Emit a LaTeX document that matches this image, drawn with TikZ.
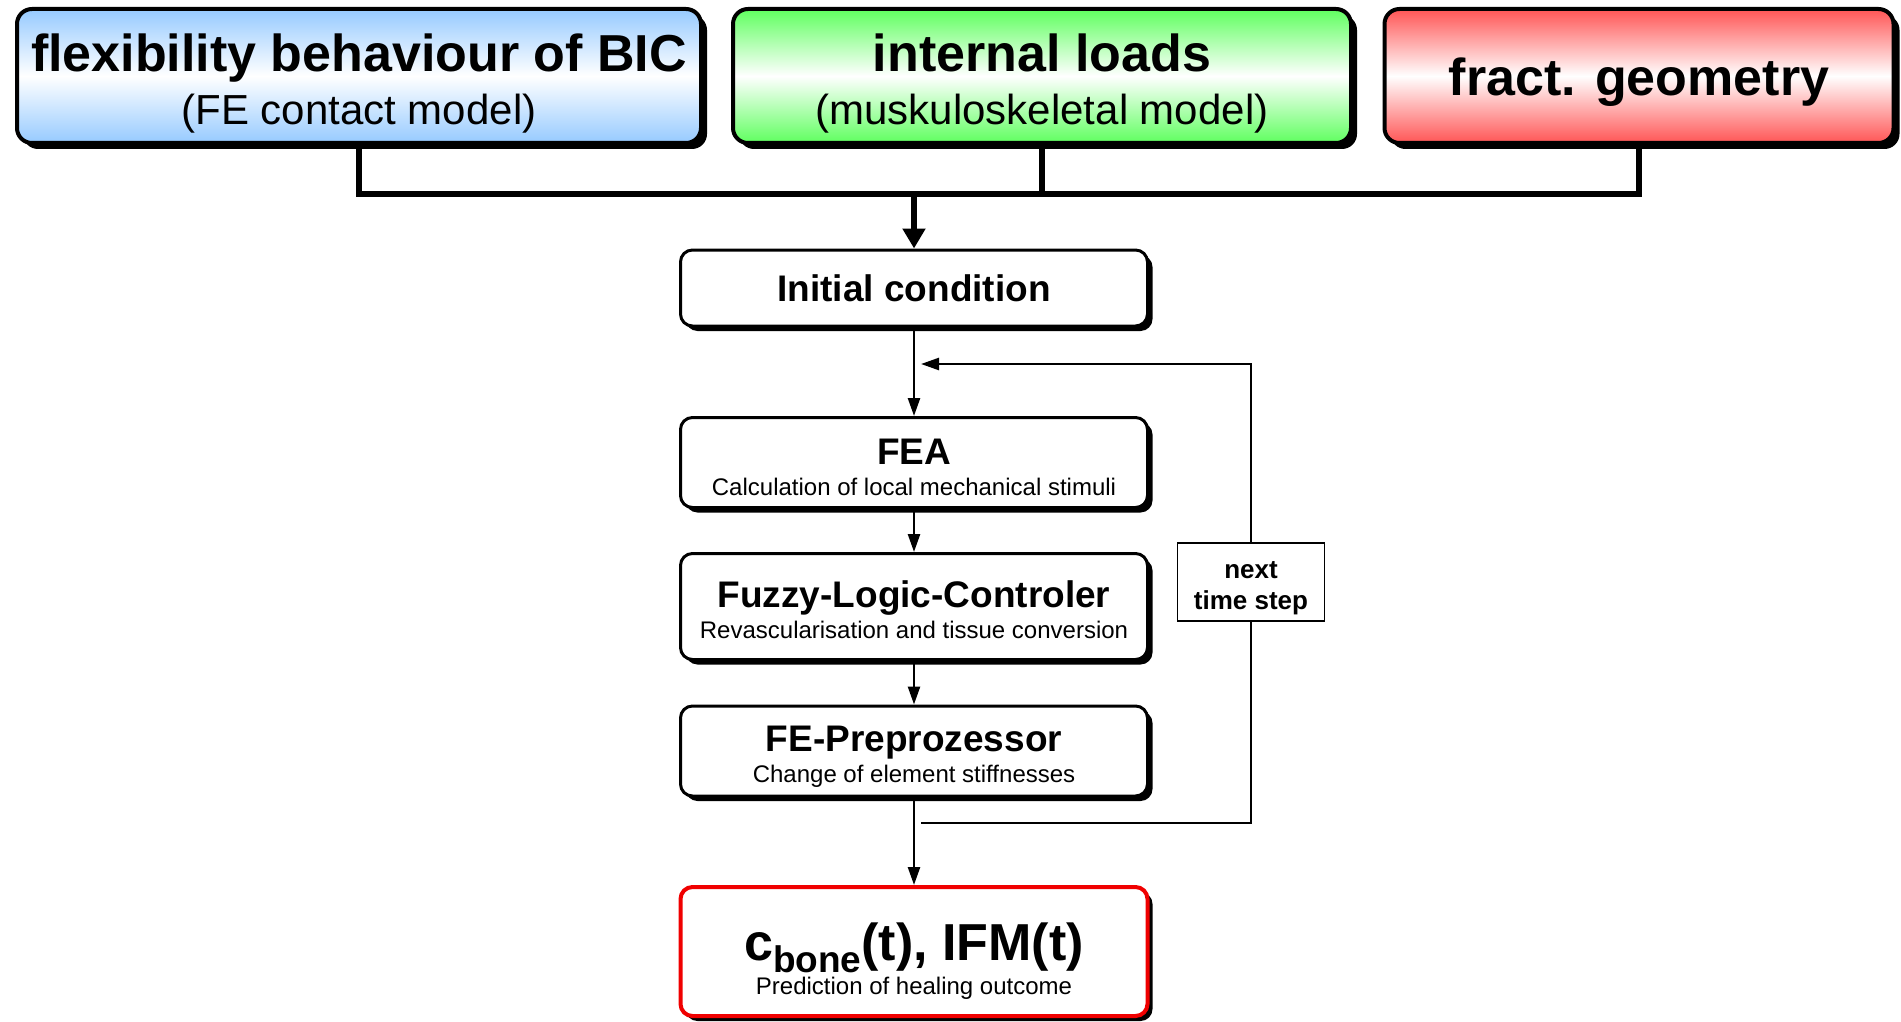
\documentclass[tikz,border=0pt]{standalone}
\usepackage{fontspec}
\setmainfont{Liberation Sans}
\usetikzlibrary{shadows,arrows.meta,positioning}

\definecolor{bicblue}{RGB}{150,202,255}
\definecolor{loadgreen}{RGB}{95,255,95}
\definecolor{geored}{RGB}{255,85,85}
\definecolor{outred}{RGB}{240,0,0}

\begin{document}
\begin{tikzpicture}[x=1pt, y=1pt,
    inbox/.style={rectangle, draw=black, line width=4pt, rounded corners=15pt, minimum height=134pt, align=center, font=\fontsize{52}{53}\selectfont\bfseries, drop shadow={shadow xshift=6pt, shadow yshift=-6pt, opacity=1, fill=black}},
    box/.style={rectangle, draw=black, fill=white, line width=3pt, rounded corners=12pt, minimum width=467pt, align=center, font=\fontsize{37}{31}\selectfont\bfseries, drop shadow={shadow xshift=5pt, shadow yshift=-5pt, opacity=1, fill=black}},
    bus/.style={line width=6pt},
    bigarrow/.style={line width=6pt, -{Triangle[width=22pt,length=20pt]}},
    arrow/.style={line width=2.5pt, -{Triangle[width=12pt,length=18pt]}}
]
    \useasboundingbox (0,0) rectangle (1901,-1022);

    \node[inbox, minimum width=684pt, top color=bicblue, bottom color=bicblue, middle color=white] (bic) at (359,-76) {\rule{0pt}{53pt}flexibility behaviour of BIC\\{\fontsize{42}{53}\selectfont\mdseries (FE contact model)}};
    \node[inbox, minimum width=618pt, top color=loadgreen, bottom color=loadgreen, middle color=white] (loads) at (1042,-76) {\rule{0pt}{53pt}internal loads\\{\fontsize{42}{53}\selectfont\mdseries (muskuloskeletal model)}};
    \node[inbox, minimum width=509pt, top color=geored, bottom color=geored, middle color=white] (geo) at (1639,-76) {\rule{0pt}{50pt}fract. geometry};

    \node[box, minimum height=76pt] (ic) at (914,-288) {Initial condition};
    \node[box, below of=ic, node distance=174.5pt, minimum height=90pt] (fea) {\rule{0pt}{36pt}FEA\\{\fontsize{24}{31}\selectfont\mdseries Calculation of local mechanical stimuli}};
    \node[box, below of=fea, node distance=144pt, minimum height=106pt] (flc) {\rule{0pt}{34pt}Fuzzy-Logic-Controler\\{\fontsize{24}{31}\selectfont\mdseries Revascularisation and tissue conversion}};
    \node[box, below of=flc, node distance=144.5pt, minimum height=90pt] (prep) {\rule{0pt}{36pt}FE-Preprozessor\\{\fontsize{24}{31}\selectfont\mdseries Change of element stiffnesses}};
    \node[box, below of=prep, node distance=200.5pt, minimum height=129pt, draw=outred, line width=4pt, font=\fontsize{52}{34}\selectfont\bfseries] (res) {\rule{0pt}{56pt}c\raisebox{-12pt}{\fontsize{37}{37}\selectfont bone}(t), IFM(t)\\{\fontsize{24}{34}\selectfont\mdseries Prediction of healing outcome}};

    \node[draw=black, fill=white, line width=1.5pt, minimum width=147pt, minimum height=78pt, align=center, font=\fontsize{26}{31.5}\selectfont\bfseries] (step) at (1251,-582) {\rule{0pt}{29pt}next\\time step};

    \coordinate (join) at (914,-194);
    \coordinate (ahead) at (921,-364);
    \coordinate (back) at (921,-823);

    \draw[bus] (bic.south) -- (bic.south |- join) -- (geo.south |- join) -- (geo.south);
    \draw[bus] (loads.south) -- (loads.south |- join);
    \draw[bigarrow] (join) -- (ic.north);

    \draw[arrow] (ic) -- (fea);
    \draw[arrow] (fea) -- (flc);
    \draw[arrow] (flc) -- (prep);
    \draw[arrow] (prep) -- (res);

    \draw[line width=2.5pt] (back) -| (step.south);
    \draw[arrow] (step.north) |- (ahead);
\end{tikzpicture}
\end{document}
